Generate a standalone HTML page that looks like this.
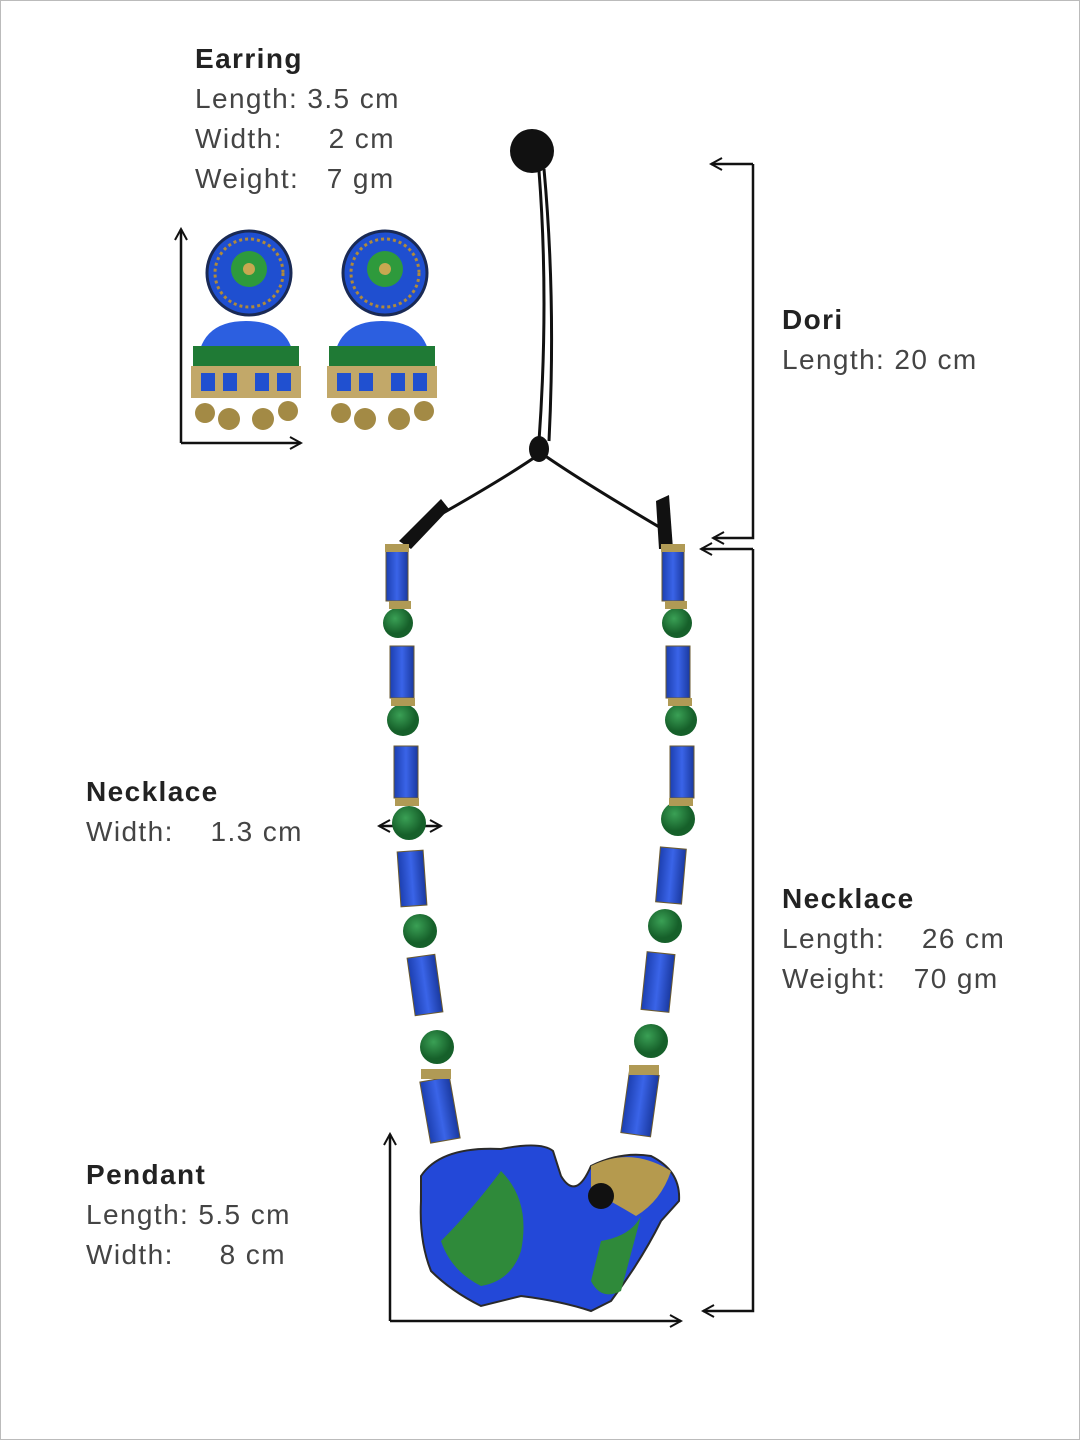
<!DOCTYPE html>
<html><head><meta charset="utf-8"><style>
html,body{margin:0;padding:0;background:#fff}
.wrap{position:relative;width:1078px;height:1438px;border:1px solid #bbb;overflow:hidden;font-family:"Liberation Sans",sans-serif;color:#444}
.t{position:absolute;font-size:28px;line-height:40px;letter-spacing:1.4px;white-space:pre}
.t b{font-weight:600;color:#222}
svg{position:absolute;left:0;top:0}
</style></head><body><div class="wrap">
<svg width="1080" height="1440" viewBox="0 0 1080 1440">
<defs>
<marker id="ah" markerWidth="14" markerHeight="14" refX="12" refY="7" orient="auto" markerUnits="userSpaceOnUse"><path d="M1,1 L12,7 L1,13" fill="none" stroke="#111" stroke-width="2"/></marker>
<radialGradient id="gb" cx="40%" cy="35%"><stop offset="0" stop-color="#3aa055"/><stop offset="1" stop-color="#16602a"/></radialGradient>
<linearGradient id="bc" x1="0" x2="1"><stop offset="0" stop-color="#1c3fb0"/><stop offset=".5" stop-color="#3a64e8"/><stop offset="1" stop-color="#1a39a0"/></linearGradient>
</defs>
<g stroke="#111" stroke-width="2.5" fill="none">
<path d="M180,442 V228" marker-end="url(#ah)"/>
<path d="M180,442 H300" marker-end="url(#ah)"/>
<path d="M752,163 H710" marker-end="url(#ah)"/>
<path d="M752,163 V537 H712" marker-end="url(#ah)"/>
<path d="M752,548 H700" marker-end="url(#ah)"/>
<path d="M752,548 V1310 H702" marker-end="url(#ah)"/>
<path d="M409,825 H440" marker-end="url(#ah)"/>
<path d="M409,825 H378" marker-end="url(#ah)"/>
<path d="M389,1320 V1133" marker-end="url(#ah)"/>
<path d="M389,1320 H680" marker-end="url(#ah)"/>
</g>
<g id="er">
<circle cx="248" cy="272" r="42" fill="#1f4fd0" stroke="#1a2a55" stroke-width="3"/>
<circle cx="248" cy="272" r="34" fill="none" stroke="#b08a3a" stroke-width="3" stroke-dasharray="3 3"/>
<circle cx="248" cy="268" r="18" fill="#2e9a3c"/>
<circle cx="248" cy="268" r="6" fill="#c8a850"/>
<path d="M196,370 Q196,320 245,320 Q294,320 294,370 Z" fill="#2c5fe0"/>
<rect x="192" y="345" width="106" height="20" fill="#1f7a35"/>
<rect x="190" y="365" width="110" height="32" fill="#c2a869"/>
<rect x="200" y="372" width="14" height="18" fill="#2050d0"/><rect x="222" y="372" width="14" height="18" fill="#2050d0"/><rect x="254" y="372" width="14" height="18" fill="#2050d0"/><rect x="276" y="372" width="14" height="18" fill="#2050d0"/>
<g fill="#a38a45"><circle cx="204" cy="412" r="10"/><circle cx="228" cy="418" r="11"/><circle cx="262" cy="418" r="11"/><circle cx="287" cy="410" r="10"/></g>
</g>
<use href="#er" x="136"/>
<circle cx="531" cy="150" r="22" fill="#111"/>
<g stroke="#111" stroke-width="3" fill="none">
<path d="M543,168 Q555,300 548,440"/><path d="M538,170 Q548,300 538,440"/>
<path d="M540,452 Q500,480 410,530"/><path d="M540,452 Q580,480 665,530"/>
</g>
<ellipse cx="538" cy="448" rx="10" ry="13" fill="#111"/>
<path d="M398,540 L440,498 L448,508 L410,548 Z" fill="#111"/>
<path d="M655,500 L668,494 L672,548 L658,548 Z" fill="#111"/>
<g stroke="#6a5a30" stroke-width="1">
<rect x="385" y="550" width="22" height="50" fill="url(#bc)"/>
<rect x="389" y="645" width="24" height="52" fill="url(#bc)"/>
<rect x="393" y="745" width="24" height="52" fill="url(#bc)"/>
<rect x="398" y="850" width="26" height="55" fill="url(#bc)" transform="rotate(-4 411 877)"/>
<rect x="410" y="955" width="28" height="58" fill="url(#bc)" transform="rotate(-8 424 984)"/>
<rect x="424" y="1078" width="30" height="62" fill="url(#bc)" transform="rotate(-10 439 1109)"/>
<rect x="661" y="550" width="22" height="50" fill="url(#bc)"/>
<rect x="665" y="645" width="24" height="52" fill="url(#bc)"/>
<rect x="669" y="745" width="24" height="52" fill="url(#bc)"/>
<rect x="657" y="847" width="26" height="55" fill="url(#bc)" transform="rotate(5 670 874)"/>
<rect x="643" y="952" width="28" height="58" fill="url(#bc)" transform="rotate(6 657 981)"/>
<rect x="624" y="1072" width="30" height="62" fill="url(#bc)" transform="rotate(8 639 1103)"/>
</g>
<g fill="url(#gb)">
<circle cx="397" cy="622" r="15"/><circle cx="402" cy="719" r="16"/><circle cx="408" cy="822" r="17"/><circle cx="419" cy="930" r="17"/><circle cx="436" cy="1046" r="17"/>
<circle cx="676" cy="622" r="15"/><circle cx="680" cy="719" r="16"/><circle cx="677" cy="818" r="17"/><circle cx="664" cy="925" r="17"/><circle cx="650" cy="1040" r="17"/>
</g>
<g fill="#b09a55">
<rect x="384" y="543" width="24" height="8"/><rect x="660" y="543" width="24" height="8"/>
<rect x="388" y="600" width="22" height="8"/><rect x="664" y="600" width="22" height="8"/>
<rect x="390" y="697" width="24" height="8"/><rect x="667" y="697" width="24" height="8"/>
<rect x="394" y="797" width="24" height="8"/><rect x="668" y="797" width="24" height="8"/>
<rect x="420" y="1068" width="30" height="10"/><rect x="628" y="1064" width="30" height="10"/>
</g>
<path d="M420,1175 Q440,1145 500,1148 Q540,1140 552,1150 L560,1175 Q575,1200 590,1165 Q620,1150 650,1155 Q680,1170 678,1200 L660,1220 Q640,1260 610,1300 L590,1310 Q560,1300 520,1295 L480,1305 Q450,1290 430,1270 Q418,1240 420,1200 Z" fill="#2348d8" stroke="#2a2a2a" stroke-width="2"/>
<path d="M500,1170 Q530,1200 520,1250 Q510,1280 480,1285 Q450,1270 440,1240 Q470,1210 500,1170 Z" fill="#2f8a3a"/>
<path d="M590,1165 Q630,1145 670,1170 Q660,1200 635,1215 Q610,1200 590,1190 Z" fill="#b59a4e"/>
<circle cx="600" cy="1195" r="13" fill="#111"/>
<path d="M600,1240 Q630,1235 640,1215 L620,1290 Q600,1300 590,1280 Z" fill="#2f8a3a"/>
</svg>
<div class="t" style="left:194px;top:38px"><b>Earring</b>
Length: 3.5 cm
Width:     2 cm
Weight:   7 gm</div>
<div class="t" style="left:781px;top:299px"><b>Dori</b>
Length: 20 cm</div>
<div class="t" style="left:85px;top:771px"><b>Necklace</b>
Width:    1.3 cm</div>
<div class="t" style="left:781px;top:878px"><b>Necklace</b>
Length:    26 cm
Weight:   70 gm</div>
<div class="t" style="left:85px;top:1154px"><b>Pendant</b>
Length: 5.5 cm
Width:     8 cm</div>
</div></body></html>
